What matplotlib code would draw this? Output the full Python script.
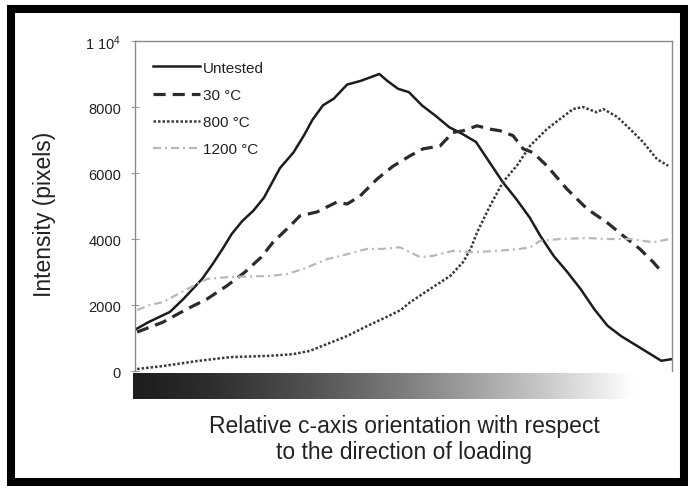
import numpy as np
import matplotlib
matplotlib.use("Agg")
import matplotlib.pyplot as plt
from matplotlib.patches import Rectangle

plt.rcParams['font.family'] = ['Liberation Sans', 'DejaVu Sans']
plt.rcParams['mathtext.fontset'] = 'custom'
plt.rcParams['mathtext.rm'] = 'Liberation Sans'
plt.rcParams['mathtext.it'] = 'Liberation Sans:italic'

# Relative c-axis orientation (arbitrary 0-100 scale) vs. intensity (pixels)
untested_x = [0, 2.5, 6.5, 9, 12.5, 14.5, 16.5, 18, 20, 22, 24, 25.5, 27, 29.5, 31.5,
              33, 35, 37, 39.5, 42, 45.5, 47, 49, 51, 53.5, 56, 58.5, 61, 63.5, 66,
              68.5, 71, 73.5, 75.5, 78, 80.5, 83, 85.5, 88, 90.5, 93.5, 96.5, 98, 100]
untested_y = [1250, 1480, 1790, 2180, 2790, 3250, 3750, 4150, 4550, 4850, 5250, 5700,
              6150, 6620, 7150, 7600, 8050, 8250, 8680, 8790, 9000, 8790, 8550, 8450,
              8040, 7730, 7390, 7180, 6940, 6330, 5720, 5210, 4650, 4090, 3480, 3000,
              2480, 1880, 1370, 1060, 760, 460, 310, 360]

c30_x = [0.4, 5.2, 9.7, 13.4, 17.1, 20.5, 23.5, 25.7, 28.9, 30.7, 33.9, 37.6, 39.5,
         41.9, 45.1, 48, 51.2, 53.6, 56.8, 59.2, 61.1, 63.7, 66.1, 68, 70.4, 72.3,
         74.1, 76.7, 80.4, 84.2, 87.9, 90.9, 94, 96.5, 98.1]
c30_y = [1180, 1480, 1880, 2180, 2580, 3000, 3450, 3900, 4400, 4700, 4820, 5120, 5060,
         5300, 5820, 6200, 6520, 6730, 6820, 7230, 7280, 7430, 7330, 7280, 7130, 6730,
         6620, 6220, 5520, 4910, 4500, 4100, 3700, 3300, 3000]

c800_x = [0.4, 5.2, 11.5, 17.7, 25.1, 29.4, 32.6, 35.8, 39.5, 43.2, 47, 49.5, 51.2,
          54.9, 58.7, 61.1, 62.5, 63.7, 66.1, 68.5, 71.1, 73.6, 76.7, 79.1, 81.6, 83.4,
          86, 87.2, 89.8, 92.2, 94.6, 97.2, 99.3]
c800_y = [60, 150, 300, 420, 460, 510, 610, 820, 1060, 1360, 1650, 1850, 2080, 2480,
          2880, 3300, 3700, 4200, 5000, 5720, 6220, 6830, 7330, 7630, 7940, 8000, 7840,
          7940, 7700, 7330, 6940, 6420, 6220]

c1200_x = [0.4, 2.8, 5.2, 9.7, 13.4, 17.7, 25.1, 28.3, 31.3, 35.8, 39.5, 43.2, 46.2,
           49.3, 51.2, 53.1, 55.5, 59.2, 62.9, 67.4, 71.7, 73.6, 75.4, 79.1, 84.2,
           87.9, 92.2, 96.5, 99.6]
c1200_y = [1850, 2000, 2090, 2480, 2790, 2850, 2880, 2940, 3090, 3390, 3540, 3700, 3700,
           3750, 3600, 3450, 3490, 3640, 3600, 3640, 3700, 3750, 3940, 4000, 4030, 4000,
           4000, 3900, 4000]

series_labels = ['Untested', '30 °C', '800 °C', '1200 °C']
ytick_values = [0, 2000, 4000, 6000, 8000, 10000]
ytick_labels = ['0', '2000', '4000', '6000', '8000', '1 10$^4$']

W, H = 690, 489
fig = plt.figure(figsize=(W / 100, H / 100), dpi=100)
fig.patch.set_facecolor('white')

ax = fig.add_axes([135 / W, 1 - 372 / H, (672 - 135) / W, (372 - 42) / H])
ax.plot(untested_x, untested_y, color='#1c1c1c', lw=1.8, label=series_labels[0],
        solid_joinstyle='round')
ax.plot(c30_x, c30_y, color='#2b2b2b', lw=2.3, dashes=(3.8, 2.2),
        label=series_labels[1])
ax.plot(c800_x, c800_y, color='#3a3a3a', lw=1.8, dashes=(1.0, 0.8),
        label=series_labels[2])
ax.plot(c1200_x, c1200_y, color='#b8b8b8', lw=1.6, dashes=(3.6, 1.8, 0.9, 1.8),
        label=series_labels[3])

ax.set_xlim(0, 100)
ax.set_ylim(0, 10000)
ax.set_xticks([])
ax.set_yticks(ytick_values)
ax.set_yticklabels(ytick_labels)
ax.tick_params(axis='y', direction='inout', length=6, width=0.8, color='#999999',
               labelsize=10.5, labelcolor='#222222', pad=7)
for side in ('left', 'top', 'right'):
    ax.spines[side].set_color('#8a8a8a')
    ax.spines[side].set_linewidth(1.0)
ax.spines['bottom'].set_visible(False)

leg = ax.legend(loc='upper left', bbox_to_anchor=(0.0335, 0.94), frameon=False,
                fontsize=11, handlelength=3.07, handletextpad=0.2, labelspacing=0.86,
                borderpad=0, borderaxespad=0)
for t in leg.get_texts():
    t.set_color('#222222')

# Orientation shading bar under the plot
gax = fig.add_axes([133 / W, 1 - 400 / H, (672 - 133) / W, 26 / H])
s = np.linspace(0, 1, 800)
ramp = np.clip(s / 0.931, 0, 1)
shade = 0.12 + 0.88 * ramp ** 1.4
gax.imshow(shade[None, :], cmap='gray', vmin=0, vmax=1, aspect='auto',
           interpolation='bilinear')
gax.axis('off')

fig.text(404 / W, 1 - 433 / H, 'Relative c-axis orientation with respect',
         ha='center', va='baseline', fontsize=16.5, color='#222222')
fig.text(404 / W, 1 - 459 / H, 'to the direction of loading',
         ha='center', va='baseline', fontsize=16.5, color='#222222')
fig.text(45 / W, 1 - 214 / H, 'Intensity (pixels)', rotation=90,
         ha='center', va='center', fontsize=16.5, color='#222222')

fig.add_artist(Rectangle((11 / W, 1 - 483 / H), (684 - 11) / W, (483 - 9.5) / H,
                         transform=fig.transFigure, fill=False, lw=5.8,
                         edgecolor='black'))

fig.savefig('out.png', dpi=100)
